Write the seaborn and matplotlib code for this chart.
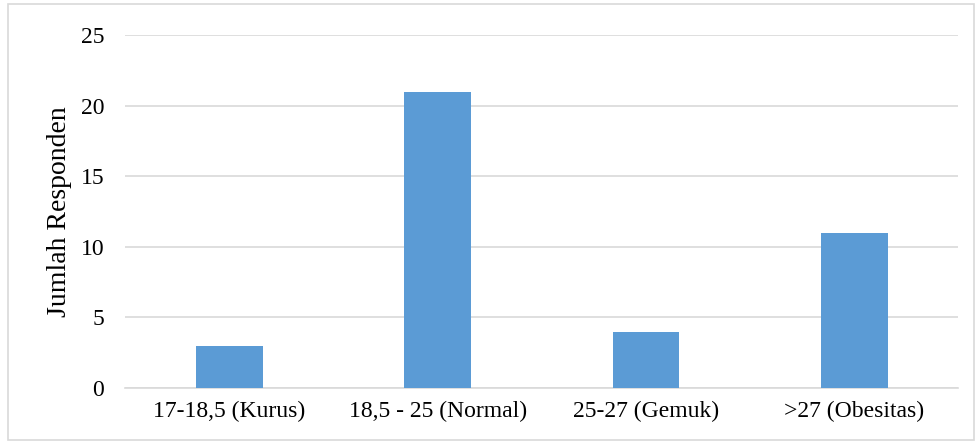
import matplotlib
matplotlib.use("Agg")
import matplotlib.pyplot as plt
import seaborn as sns
import pandas as pd
from matplotlib.patches import Rectangle

categories = ["17-18,5 (Kurus)", "18,5 - 25 (Normal)", "25-27 (Gemuk)", ">27 (Obesitas)"]
counts = [3, 21, 4, 11]
y_ticks = [0, 5, 10, 15, 20, 25]
y_label = "Jumlah Responden"

df = pd.DataFrame({"kategori": categories, "jumlah": counts})

sns.set_theme(style="white")
plt.rcParams["font.family"] = ["Liberation Serif", "DejaVu Serif"]

fig = plt.figure(figsize=(9.78, 4.44), dpi=100)
ax = fig.add_axes([0.128, 0.126, 0.852, 0.795])

sns.barplot(data=df, x="kategori", y="jumlah", color="#5B9BD5",
            width=0.32, saturation=1, linewidth=0, ax=ax, zorder=3)

ax.set_ylim(0, 25)
ax.set_yticks(y_ticks)
ax.set_yticklabels([str(t) for t in y_ticks], fontsize=17, color="#000000")
ax.set_xlim(-0.5, len(categories) - 0.5)
ax.tick_params(axis="x", labelsize=17, colors="#000000", length=0, pad=9)
ax.tick_params(axis="y", length=0, pad=15)
ax.set_xlabel("")
ax.set_ylabel(y_label, fontsize=20, color="#000000", labelpad=6)

ax.yaxis.grid(True, color="#d9d9d9", linewidth=1.2, zorder=0)
for side in ["top", "right", "left"]:
    ax.spines[side].set_visible(False)
ax.spines["bottom"].set_color("#d9d9d9")
ax.spines["bottom"].set_linewidth(1.2)

# thin frame around the whole chart area
fig.patches.append(Rectangle((8 / 978, 4 / 444), 966 / 978, 436 / 444,
                             transform=fig.transFigure, fill=False,
                             edgecolor="#d9d9d9", linewidth=1.2))

fig.savefig("out.png", dpi=100, facecolor="white")
